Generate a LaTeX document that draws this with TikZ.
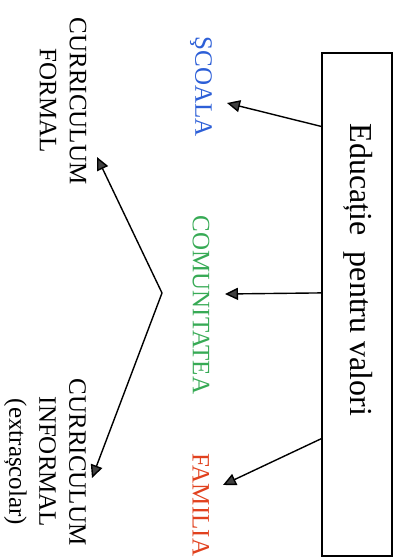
\documentclass[tikz,border=0pt]{standalone}
\usepackage{fontspec}
\setmainfont{Liberation Serif}
\usetikzlibrary{arrows.meta,calc}
\definecolor{scoalablue}{RGB}{45,95,215}
\definecolor{comgreen}{RGB}{55,170,85}
\definecolor{famred}{RGB}{225,65,30}
\begin{document}
\begin{tikzpicture}[x=0.5pt,y=-0.5pt,
    arr/.style={-{Triangle[length=6.5pt,width=6pt,fill=black!75]},line width=0.7pt},
    lbl/.style={rotate=-90,inner sep=0pt,font=\fontsize{12.5}{15}\selectfont,align=center}]
    \useasboundingbox (0,0) rectangle (402,558);
    \node[draw,line width=0.7pt,rotate=-90,minimum width=251.5pt,minimum height=35pt] (box) at (357,304.5) {};
    \node[rotate=-90,font=\fontsize{16}{18}\selectfont] (title) at (358,270) {Educație\ \ pentru valori};
    % middle column
    \node[lbl,text=scoalablue] (scoala) at (201,87) {ŞCOALA};
    \node[lbl,text=comgreen] (comun) at (201,305) {COMUNITATEA};
    \node[lbl,text=famred] (familia) at (201,505) {FAMILIA};
    % left column
    \node[lbl] (formal) at (63,101) {CURRICULUM\\FORMAL};
    \node[lbl] (informal) at (45,462) {CURRICULUM\\INFORMAL\\(extrașcolar)};
    \coordinate (v) at (162,293);
    % box to middle column
    \draw[arr] ($(box.south west)!0.147!(box.south east)$) -- ([shift={(26,16)}]scoala.center);
    \draw[arr] ($(box.south west)!0.477!(box.south east)$) -- ([shift={(24,-11)}]comun.center);
    \draw[arr] ($(box.south west)!0.766!(box.south east)$) -- ([shift={(22,-20)}]familia.center);
    % chevron to the curricula
    \draw[arr] (v) -- ([shift={(34,56)}]formal.center);
    \draw[arr] (v) -- ([shift={(47,16)}]informal.center);
\end{tikzpicture}
\end{document}
